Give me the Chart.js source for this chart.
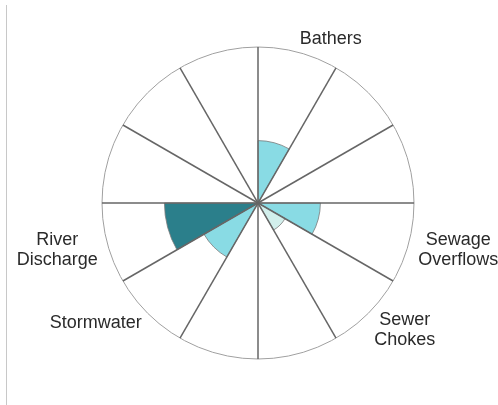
<!DOCTYPE html>
<html>
<head>
<meta charset="utf-8">
<script src="https://cdn.jsdelivr.net/npm/chart.js@4/dist/chart.umd.min.js"></script>
<style>
  body { margin: 0; background: #fff; }
  #wrap { position: relative; width: 498px; height: 405px; }
  #edge { position: absolute; left: 6px; top: 5px; bottom: 0; width: 1px; background: #c8c8c8; }
</style>
</head>
<body>
<div id="wrap">
  <div id="edge"></div>
  <canvas id="rose"></canvas>
</div>
<script>
// 12 sectors of 30 degrees, clockwise from the top
const sectors = ["Bathers", "", "", "Sewage Overflows", "Sewer Chokes", "", "", "Stormwater", "River Discharge", "", "", ""];
const scores = [2, 0, 0, 2, 1, 0, 0, 2, 3, 0, 0, 0];
const scoreMax = 5;

// fill colour by score
const scoreColours = { 1: "#d2efec", 2: "#89dbe4", 3: "#2b7f8b" };

// labels sit in the middle of their sector, outside the circle
const sectorLabels = {
  id: "sectorLabels",
  afterDraw(chart) {
    const scale = chart.scales.r;
    const ctx = chart.ctx;
    const lineH = 20;
    ctx.save();
    ctx.font = "18px 'Liberation Sans', Arial, sans-serif";
    ctx.fillStyle = "#2a2a2a";
    ctx.textBaseline = "middle";
    ctx.textAlign = "center";
    sectors.forEach((name, i) => {
      if (!name) return;
      const lines = name.split(" ");
      const w = Math.max(...lines.map(l => ctx.measureText(l).width));
      const h = lines.length * lineH;
      const ang = scale.getIndexAngle(i + 0.5);
      const p = scale.getPointPosition(i + 0.5, scale.drawingArea + 4);
      const s = Math.sin(ang), c = Math.cos(ang);
      const gap = 6 * s * s;
      let cx = p.x;
      if (s > 0.05) cx = p.x + gap + w / 2;
      else if (s < -0.05) cx = p.x - gap - w / 2;
      const cy = p.y - c * h / 2;
      lines.forEach((l, j) => {
        ctx.fillText(l, cx, cy - h / 2 + lineH * (j + 0.5));
      });
    });
    ctx.restore();
  }
};

new Chart(document.getElementById("rose"), {
  type: "polarArea",
  data: {
    labels: sectors,
    datasets: [{
      data: scores,
      backgroundColor: (c) => scoreColours[c.raw] || "rgba(0,0,0,0)",
      borderColor: "#7a7a7a",
      borderWidth: (c) => (c.raw ? 0.8 : 0),
    }],
  },
  options: {
    responsive: true,
    maintainAspectRatio: false,
    animation: false,
    layout: { padding: { left: 102, right: 84, top: 47, bottom: 46 } },
    plugins: { legend: { display: false }, tooltip: { enabled: false } },
    scales: {
      r: {
        min: 0,
        max: scoreMax,
        ticks: { display: false, stepSize: scoreMax },
        grid: { circular: true, color: "#a0a0a0", lineWidth: 1, z: 1 },
        angleLines: { display: true, color: "#666", lineWidth: 1.5 },
        pointLabels: { display: false },
      },
    },
  },
  plugins: [sectorLabels],
});
</script>
</body>
</html>
